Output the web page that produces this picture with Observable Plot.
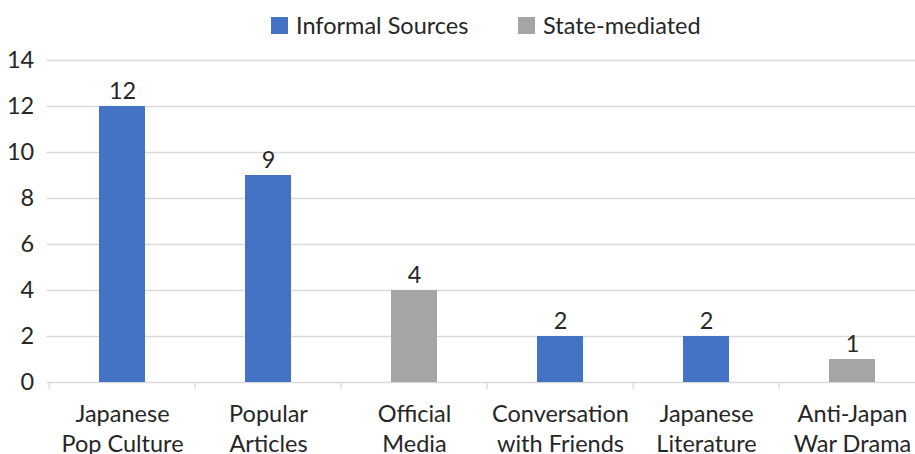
<!DOCTYPE html>
<html>
<head>
<meta charset="utf-8">
<script src="https://cdn.jsdelivr.net/npm/d3@7"></script>
<script src="https://cdn.jsdelivr.net/npm/@observablehq/plot@0.6"></script>
<style>
  html, body { margin: 0; padding: 0; background: #fff; }
  body { width: 915px; height: 454px; overflow: hidden; font-family: Lato, "Open Sans", sans-serif; }
  #legend { height: 42px; position: relative; color: #262626; font-size: 23.5px; }
  .item { position: absolute; top: 0; height: 50px; display: flex; align-items: center; }
  .sw { width: 17px; height: 17px; margin-right: 8px; }
  svg { display: block; overflow: visible; }
</style>
</head>
<body>
<div id="legend"></div>
<div id="chart"></div>
<script>
const categories = ["Japanese\nPop Culture", "Popular\nArticles", "Official\nMedia", "Conversation\nwith Friends", "Japanese\nLiterature", "Anti-Japan\nWar Drama"];
const values = [12, 9, 4, 2, 2, 1];
const groups = ["Informal Sources", "Informal Sources", "State-mediated", "Informal Sources", "Informal Sources", "State-mediated"];
const seriesNames = ["Informal Sources", "State-mediated"];
const seriesColors = ["#4472C4", "#A5A5A5"];
const yTicks = [0, 2, 4, 6, 8, 10, 12, 14];

const data = categories.map((c, i) => ({category: c, value: values[i], group: groups[i]}));

// legend
const legend = document.getElementById("legend");
const lefts = [271, 518];
seriesNames.forEach((s, i) => {
  const it = document.createElement("div");
  it.className = "item";
  it.style.left = lefts[i] + "px";
  it.innerHTML = `<div class="sw" style="background:${seriesColors[i]}"></div><span>${s}</span>`;
  legend.appendChild(it);
});

const step = (926.7 - 46.7) / categories.length;
const FS = 23.5;

const chart = Plot.plot({
  width: 915,
  height: 412,
  marginTop: 18,
  marginBottom: 72,
  marginLeft: 46.7,
  marginRight: 0,
  style: {fontFamily: "Lato, 'Open Sans', sans-serif", fontSize: FS + "px", color: "#262626", overflow: "visible"},
  x: {domain: categories, range: [46.7, 926.7], padding: 0},
  y: {domain: [0, 14]},
  color: {domain: seriesNames, range: seriesColors},
  marks: [
    Plot.ruleY(yTicks, {y: d => d, stroke: "#d9d9d9", strokeWidth: 1.3}),
    Plot.ruleX(categories, {x: d => d, dx: -step / 2, y1: 0, y2: -0.3, stroke: "#d9d9d9", strokeWidth: 1.3}),
    Plot.barY(data, {x: "category", y: "value", fill: "group", insetLeft: 50, insetRight: 50}),
    Plot.text(data, {x: "category", y: "value", text: d => String(d.value), lineAnchor: "bottom", dy: -8, fill: "#262626", fontSize: FS}),
    Plot.axisY({ticks: yTicks, tickSize: 0, tickPadding: 13, fontSize: FS, fill: "#262626", label: null}),
    Plot.axisX({tickSize: 0, tickPadding: 18, fontSize: FS, lineHeight: 1.27, fill: "#262626", label: null})
  ]
});
document.getElementById("chart").appendChild(chart);
</script>
</body>
</html>
